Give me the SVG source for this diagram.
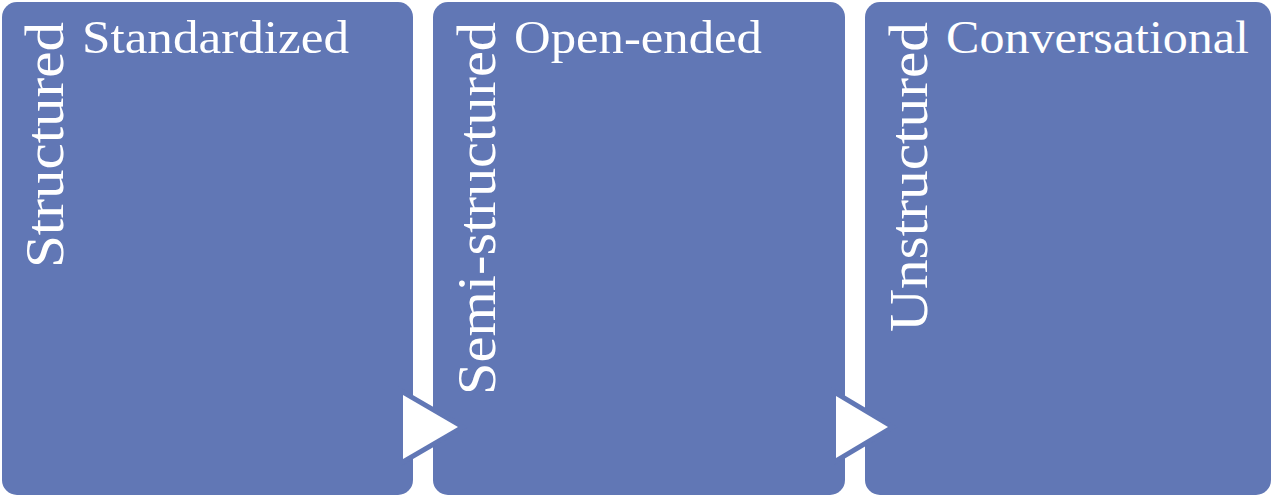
<svg xmlns="http://www.w3.org/2000/svg" width="1273" height="497" viewBox="0 0 1273 497">
<style>
.box{fill:#6177B5;}
.h{font-family:"Liberation Serif",serif;font-size:46px;fill:#fff;}
.v{font-family:"Liberation Serif",serif;font-size:55px;fill:#fff;text-anchor:end;}
.arr{fill:#fff;stroke:#6177B5;stroke-width:10;paint-order:stroke;stroke-linejoin:miter;}
</style>
<rect width="1273" height="497" fill="#fff"/>
<g id="node1">
<rect class="box" x="2" y="2" width="411" height="493" rx="15"/>
<text class="v" transform="translate(63,22) rotate(-90)" textLength="246" lengthAdjust="spacingAndGlyphs">Structured</text>
<text class="h" x="82" y="53" textLength="267" lengthAdjust="spacingAndGlyphs">Standardized</text>
</g>
<g id="node2">
<rect class="box" x="433" y="2" width="412" height="493" rx="15"/>
<text class="v" transform="translate(495,22) rotate(-90)" textLength="373" lengthAdjust="spacingAndGlyphs">Semi-structured</text>
<text class="h" x="514" y="53" textLength="248" lengthAdjust="spacingAndGlyphs">Open-ended</text>
</g>
<g id="node3">
<rect class="box" x="865" y="2" width="406" height="493" rx="15"/>
<text class="v" transform="translate(927,22) rotate(-90)" textLength="310" lengthAdjust="spacingAndGlyphs">Unstructured</text>
<text class="h" x="946" y="53" textLength="303" lengthAdjust="spacingAndGlyphs">Conversational</text>
</g>
<g id="connectors">
<polygon class="arr" points="403,395 458,427 403,459"/>
<polygon class="arr" points="836,396 888,427 836,458"/>
</g>
</svg>
